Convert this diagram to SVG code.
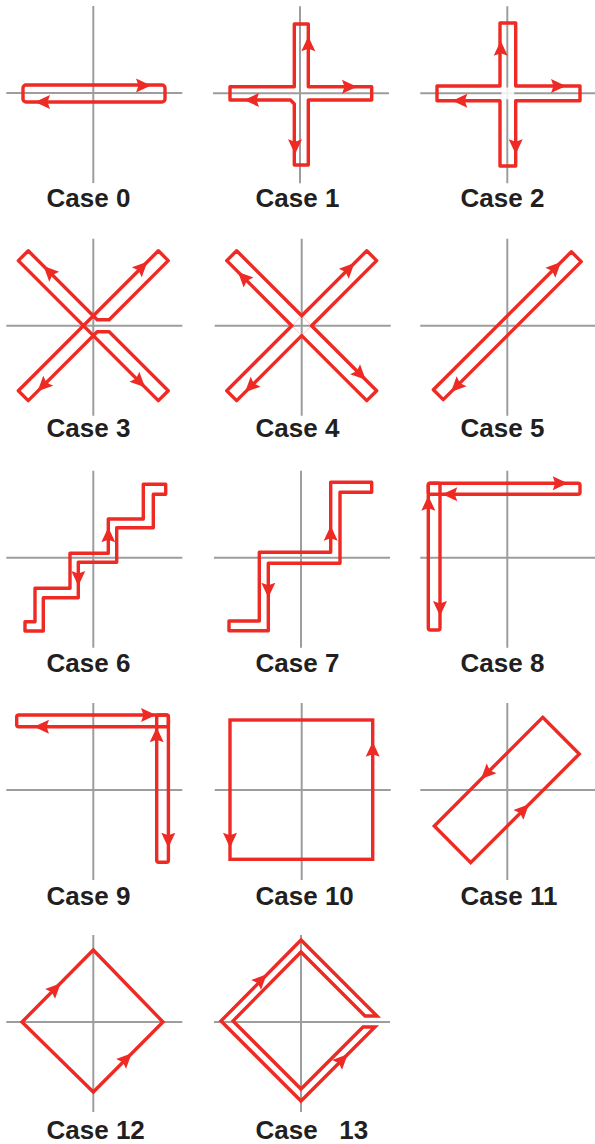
<svg xmlns="http://www.w3.org/2000/svg" width="595" height="1144" viewBox="0 0 595 1144">
<style>
.ax{stroke:#9d9d9d;stroke-width:2;fill:none}
.rd{stroke:#ed2a24;stroke-width:3.4;fill:none;stroke-linejoin:round}
.rm{stroke:#ed2a24;stroke-width:3.4;fill:none;stroke-linejoin:miter}
.lb{font-family:"Liberation Sans",Arial,sans-serif;font-weight:bold;font-size:26px;fill:#231f20}
</style>
<defs>
<path id="ah" d="M1,0 L-14,-7 L-11.5,0 L-14,7 Z" fill="#ed2a24"/>
</defs>
<rect width="595" height="1144" fill="#fff"/>

<g id="case0">
<path class="ax" d="M93.3,6V183M6.3,93H182.3"/>
<rect class="rd" x="23" y="85" width="142" height="17" rx="3"/>
<use href="#ah" transform="translate(150,85.5)"/>
<use href="#ah" transform="translate(36,102) rotate(180)"/>
<text class="lb" x="46.5" y="206.7">Case 0</text>
</g>

<g id="case1">
<path class="ax" d="M300,6.3V183.3M213,93.3H389"/>
<path class="rd" d="M294.3,24H308.3V86.7H371.7V100H308.3V165H294.3V104L290.5,100H230V86.7H294.3Z"/>
<use href="#ah" transform="translate(308.3,37.3) rotate(-90)"/>
<use href="#ah" transform="translate(356,86.7)"/>
<use href="#ah" transform="translate(245,100) rotate(180)"/>
<use href="#ah" transform="translate(295,153.3) rotate(90)"/>
<text class="lb" x="255.5" y="206.7">Case 1</text>
</g>

<g id="case2">
<path class="ax" d="M507.3,6.3V183.3M420.3,93.3H595"/>
<rect x="501.5" y="87.5" width="12.7" height="11.7" rx="2" fill="#fff" opacity="0.85"/>
<path class="rd" d="M500,23H515.7V86H580V100.7H515.7V166H500V100.7H437V86H500Z"/>
<use href="#ah" transform="translate(500.7,41.7) rotate(-90)"/>
<use href="#ah" transform="translate(565,86)"/>
<use href="#ah" transform="translate(453.3,100.7) rotate(180)"/>
<use href="#ah" transform="translate(515.7,153.3) rotate(90)"/>
<text class="lb" x="460.5" y="206.7">Case 2</text>
</g>

<g id="case3">
<path class="ax" d="M93.3,238.7V415.7M6.3,325.7H182.3"/>
<g transform="translate(93.3,325.7)">
<path class="rd" d="M3.9,-6L-65.05,-74.95L-74.95,-65.05L65.05,74.95L74.95,65.05L15.9,6L3.9,6L-65.05,74.95L-74.95,65.05L65.05,-74.95L74.95,-65.05L15.9,-6Z"/>
<use href="#ah" transform="translate(-49,-58.9) rotate(-135)"/>
<use href="#ah" transform="translate(53.4,-63.3) rotate(-45)"/>
<use href="#ah" transform="translate(-55,64.9) rotate(135)"/>
<use href="#ah" transform="translate(51,60.9) rotate(45)"/>
</g>
<text class="lb" x="46.5" y="436.7">Case 3</text>
</g>

<g id="case4">
<path class="ax" d="M301.7,238.7V415.7M214.7,325.7H390.7"/>
<g transform="translate(301.7,325.7)">
<path d="M0,-9.9L9.9,0L0,9.9L-9.9,0Z" fill="none" stroke="#f6b8b4" stroke-width="0.7"/>
<path class="rd" d="M0,-9.9L65.05,-74.95L74.95,-65.05L9.9,0L74.95,65.05L65.05,74.95L0,9.9L-65.05,74.95L-74.95,65.05L-9.9,0L-74.95,-65.05L-65.05,-74.95Z"/>
<use href="#ah" transform="translate(-63,-53.1) rotate(-135)"/>
<use href="#ah" transform="translate(52,-61.9) rotate(-45)"/>
<use href="#ah" transform="translate(-56,65.9) rotate(135)"/>
<use href="#ah" transform="translate(63.3,53.4) rotate(45)"/>
</g>
<text class="lb" x="255.5" y="436.7">Case 4</text>
</g>

<g id="case5">
<path class="ax" d="M507.3,238.7V415.7M420.3,325.7H595"/>
<g transform="translate(507.3,325.7)">
<path class="rd" d="M64.05,-73.95L73.95,-64.05L-64.05,73.95L-73.95,64.05Z"/>
<use href="#ah" transform="translate(53,-62.9) rotate(-45)"/>
<use href="#ah" transform="translate(-55.6,65.5) rotate(135)"/>
</g>
<text class="lb" x="460.5" y="436.7">Case 5</text>
</g>

<g id="case6">
<path class="ax" d="M93.3,470.7V647.7M6.3,557.7H182.3"/>
<path class="rd" d="M143.3,484.3H165.7V494.3H153.3V527.7H116.7V562.3H78.3V597.7H43.3V631H25V621.7H35V588.3H70V553.3H108.3V519H143.3Z"/>
<use href="#ah" transform="translate(108.3,528.3) rotate(-90)"/>
<use href="#ah" transform="translate(78.3,585) rotate(90)"/>
<text class="lb" x="46.5" y="671.7">Case 6</text>
</g>

<g id="case7">
<path class="ax" d="M301,470.7V647.7M214,557.7H390"/>
<path class="rd" d="M330.7,482.3H371.7V492.3H340V563.3H268.3V630.7H229V621H259.3V552.3H330.7Z"/>
<use href="#ah" transform="translate(330.7,526.7) rotate(-90)"/>
<use href="#ah" transform="translate(268.3,596.7) rotate(90)"/>
<text class="lb" x="255.5" y="671.7">Case 7</text>
</g>

<g id="case8">
<path class="ax" d="M507.3,470.7V647.7M420.3,557.7H595"/>
<rect class="rd" x="428.3" y="483.3" width="151.7" height="11" rx="2"/>
<rect class="rd" x="428.3" y="483.3" width="11.7" height="146.7" rx="2"/>
<use href="#ah" transform="translate(566.7,483.3)"/>
<use href="#ah" transform="translate(443.3,494.3) rotate(180)"/>
<use href="#ah" transform="translate(428.3,496.7) rotate(-90)"/>
<use href="#ah" transform="translate(440,615) rotate(90)"/>
<text class="lb" x="460.5" y="671.7">Case 8</text>
</g>

<g id="case9">
<path class="ax" d="M93.3,703V880M6.3,790H182.3"/>
<rect class="rd" x="16.7" y="715" width="151.7" height="11.7" rx="2"/>
<rect class="rd" x="156.7" y="715" width="11.7" height="147.3" rx="2"/>
<use href="#ah" transform="translate(155,715)"/>
<use href="#ah" transform="translate(35,726.7) rotate(180)"/>
<use href="#ah" transform="translate(156.7,728.3) rotate(-90)"/>
<use href="#ah" transform="translate(168.3,846.7) rotate(90)"/>
<text class="lb" x="46.5" y="905">Case 9</text>
</g>

<g id="case10">
<path class="ax" d="M301.7,703V880M214.7,790H390.7"/>
<rect class="rm" x="230" y="720" width="142.7" height="139.3"/>
<use href="#ah" transform="translate(372.7,742.7) rotate(-90)"/>
<use href="#ah" transform="translate(230,846.7) rotate(90)"/>
<text class="lb" x="255.5" y="905">Case 10</text>
</g>

<g id="case11">
<path class="ax" d="M507.3,703V880M420.3,790H595"/>
<polygon class="rm" points="542.7,717.3 579.3,754 470.7,862.7 434.3,826"/>
<use href="#ah" transform="translate(481.7,778.3) rotate(135)"/>
<use href="#ah" transform="translate(528.3,805) rotate(-45)"/>
<text class="lb" x="460.5" y="905">Case 11</text>
</g>

<g id="case12">
<path class="ax" d="M93.3,935V1112M6.3,1022H182.3"/>
<polygon class="rm" points="93.3,950 163,1022 93.3,1092 22,1022"/>
<use href="#ah" transform="translate(60,984) rotate(-45)"/>
<use href="#ah" transform="translate(131,1054) rotate(-45)"/>
<text class="lb" x="46.5" y="1139">Case 12</text>
</g>

<g id="case13">
<path class="ax" d="M301,935V1112M214,1022H390"/>
<path class="rm" d="M377,1016H365L301,952L233,1021L301,1089L363,1027H375L301,1101L221,1021L301,940Z"/>
<use href="#ah" transform="translate(266,975) rotate(-45)"/>
<use href="#ah" transform="translate(347,1055) rotate(-45)"/>
<text class="lb" x="255.5" y="1139" xml:space="preserve">Case   13</text>
</g>
</svg>
